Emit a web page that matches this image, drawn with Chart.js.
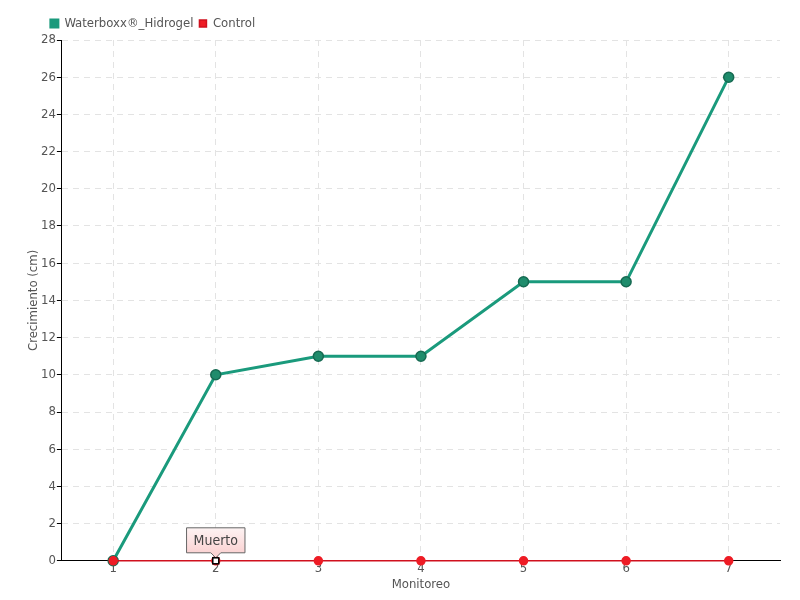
<!DOCTYPE html>
<html>
<head>
<meta charset="utf-8">
<script src="https://cdn.jsdelivr.net/npm/chart.js@4/dist/chart.umd.min.js"></script>
<style>
  html, body { margin: 0; padding: 0; background: #fff; }
  #wrap { width: 800px; height: 600px; }
</style>
</head>
<body>
<div id="wrap"><canvas id="myChart"></canvas></div>
<script>
const monitoreo = ["1", "2", "3", "4", "5", "6", "7"];
const waterboxx = [0, 10, 11, 11, 15, 15, 26];
const control = [0, 0, 0, 0, 0, 0, 0];
const noteIndex = 1;
const noteText = "Muerto";

const fontFamily = "'DejaVu Sans Condensed', 'DejaVu Sans', sans-serif";
const textColor = "#555";

// keep the legend a bit right of the canvas edge, like the original
const legendShift = {
  id: "legendShift",
  afterLayout(chart) {
    chart.legend.left = chart.chartArea.left - 17;
  },
};

const notePlugin = {
  id: "notePlugin",
  afterDatasetsDraw(chart) {
    const { ctx, scales } = chart;
    const x = scales.x.getPixelForValue(noteIndex);
    const y = scales.y.getPixelForValue(control[noteIndex]);
    ctx.save();
    ctx.font = "14px " + fontFamily;
    const w = ctx.measureText(noteText).width + 14;
    const h = 25;
    const top = y - 8 - h;
    const left = x - w / 2;
    const grad = ctx.createLinearGradient(0, top, 0, top + h);
    grad.addColorStop(0, "#fdf3f3");
    grad.addColorStop(1, "#fbd3d3");
    ctx.beginPath();
    ctx.moveTo(left, top);
    ctx.lineTo(left + w, top);
    ctx.lineTo(left + w, top + h);
    ctx.lineTo(x + 5, top + h);
    ctx.lineTo(x, top + h + 5);
    ctx.lineTo(x - 5, top + h);
    ctx.lineTo(left, top + h);
    ctx.closePath();
    ctx.fillStyle = grad;
    ctx.fill();
    ctx.strokeStyle = "#666";
    ctx.lineWidth = 1;
    ctx.stroke();
    ctx.fillStyle = "#444";
    ctx.textAlign = "center";
    ctx.textBaseline = "middle";
    ctx.fillText(noteText, x, top + h / 2 + 1);
    // marked point
    ctx.fillStyle = "#fff";
    ctx.strokeStyle = "#000";
    ctx.lineWidth = 1.5;
    ctx.fillRect(x - 3, y - 3, 6, 6);
    ctx.strokeRect(x - 3, y - 3, 6, 6);
    ctx.restore();
  },
};

new Chart(document.getElementById("myChart"), {
  type: "line",
  data: {
    labels: monitoreo,
    datasets: [
      {
        label: "Waterboxx®_Hidrogel",
        data: waterboxx,
        borderColor: "#1a9a7c",
        backgroundColor: "#1a9a7c",
        pointBackgroundColor: "#1f8c6c",
        pointBorderColor: "#166a52",
        borderWidth: 3,
        pointRadius: 5,
        pointBorderWidth: 1.5,
        tension: 0,
        clip: false,
        order: 2,
      },
      {
        label: "Control",
        data: control,
        borderColor: "#d0101e",
        backgroundColor: "#ee1c25",
        pointBackgroundColor: "#ee1c25",
        pointBorderColor: "#ee1c25",
        borderWidth: 1.5,
        pointRadius: 4,
        tension: 0,
        clip: false,
        order: 1,
      },
    ],
  },
  options: {
    responsive: true,
    maintainAspectRatio: false,
    animation: false,
    layout: { padding: { left: 27, right: 20, top: 11, bottom: 8 } },
    plugins: {
      legend: {
        position: "top",
        align: "start",
        labels: {
          boxWidth: 7,
          boxHeight: 7,
          padding: 6,
          color: textColor,
          font: { family: fontFamily, size: 13 },
          sort: (a, b) => a.datasetIndex - b.datasetIndex,
        },
      },
      tooltip: { enabled: false },
    },
    scales: {
      x: {
        offset: true,
        grid: {
          offset: false,
          color: "#e3e3e3",
          drawTicks: false,
        },
        border: { color: "#000", width: 1, dash: [6, 5] },
        ticks: { color: textColor, padding: 0, font: { family: fontFamily, size: 13 } },
        title: {
          display: true,
          text: "Monitoreo",
          color: textColor,
          padding: 0,
          font: { family: fontFamily, size: 13 },
        },
      },
      y: {
        min: 0,
        max: 28,
        ticks: {
          stepSize: 2,
          color: textColor,
          padding: 1,
          font: { family: fontFamily, size: 13 },
        },
        grid: {
          color: "#e3e3e3",
          tickLength: 5,
          tickColor: "#000",
          tickBorderDash: [],
        },
        border: { color: "#000", width: 1, dash: [6, 5] },
        title: {
          display: true,
          text: "Crecimiento (cm)",
          color: textColor,
          padding: 0,
          font: { family: fontFamily, size: 13, lineHeight: 1 },
        },
      },
    },
  },
  plugins: [legendShift, notePlugin],
});
</script>
</body>
</html>
